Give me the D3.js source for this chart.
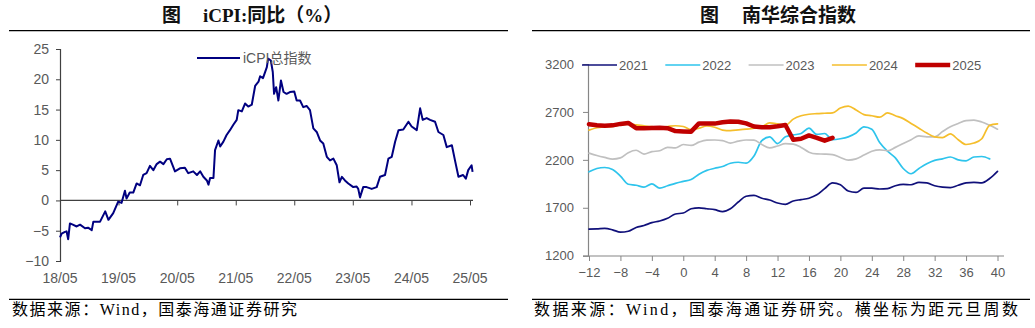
<!DOCTYPE html>
<html><head><meta charset="utf-8">
<script src="https://cdn.jsdelivr.net/npm/d3@7"></script>
<style>body{margin:0;background:#fff}svg{display:block}</style>
</head><body><svg id="c" width="1035" height="328"></svg>
<script>
// ---------- Left chart: iCPI YoY (%) ----------
const cpiDates = ["2018-05-01","2018-05-11","2018-06-01","2018-06-11","2018-06-21","2018-07-02","2018-07-20","2018-08-13","2018-09-03","2018-10-04","2018-10-23","2018-11-15","2018-11-25","2019-01-06","2019-02-07","2019-02-27","2019-03-29","2019-04-29","2019-05-20","2019-06-10","2019-06-20","2019-07-10","2019-08-01","2019-08-22","2019-09-12","2019-10-02","2019-10-23","2019-11-13","2019-12-04","2019-12-25","2020-01-15","2020-02-05","2020-02-26","2020-03-17","2020-04-17","2020-05-18","2020-06-18","2020-07-09","2020-08-09","2020-09-01","2020-09-21","2020-10-11","2020-11-02","2020-11-12","2020-11-22","2020-12-13","2020-12-23","2021-01-13","2021-01-24","2021-02-13","2021-03-05","2021-03-26","2021-04-16","2021-05-07","2021-05-17","2021-06-08","2021-06-28","2021-07-18","2021-08-09","2021-08-30","2021-09-20","2021-09-30","2021-10-18","2021-11-11","2021-11-19","2021-12-06","2021-12-18","2021-12-26","2022-01-08","2022-01-22","2022-02-07","2022-02-23","2022-03-14","2022-04-04","2022-05-01","2022-05-16","2022-06-06","2022-06-26","2022-07-17","2022-08-07","2022-08-28","2022-09-18","2022-10-09","2022-10-29","2022-11-20","2022-12-10","2022-12-31","2023-01-21","2023-02-07","2023-02-22","2023-03-13","2023-04-03","2023-05-04","2023-05-25","2023-06-04","2023-06-15","2023-07-05","2023-07-26","2023-08-27","2023-09-27","2023-10-18","2023-11-18","2023-12-09","2023-12-30","2024-01-20","2024-02-10","2024-03-11","2024-04-12","2024-05-02","2024-06-03","2024-06-24","2024-07-10","2024-08-04","2024-08-25","2024-09-25","2024-10-16","2024-11-16","2024-12-07","2025-01-08","2025-01-29","2025-02-18","2025-03-19","2025-04-05","2025-04-20","2025-05-11","2025-05-17"];
const cpiValues = [-6.1,-5.5,-5.2,-5.1,-6.4,-3.8,-4.0,-4.3,-4.0,-4.6,-4.5,-4.9,-3.5,-3.5,-1.8,-3.2,-2.1,-0.2,-0.4,1.6,0.3,1.3,1.3,2.8,2.5,4.2,4.5,5.7,5.0,6.0,6.4,6.0,6.8,6.9,4.8,5.3,5.4,4.5,4.8,4.2,4.8,3.9,3.3,2.6,3.7,3.7,8.3,9.9,8.9,9.7,10.8,11.6,12.5,13.3,14.9,14.7,16.0,15.5,15.8,18.9,19.6,20.5,20.2,22.0,23.4,23.1,21.2,17.6,18.7,16.5,19.8,17.9,17.6,17.9,18.0,16.5,16.5,15.4,15.6,14.9,11.9,11.3,9.9,9.4,7.2,6.6,6.9,5.8,3.0,3.9,3.3,2.8,2.2,2.3,1.9,0.5,2.2,2.2,1.9,2.2,3.9,4.2,6.9,7.2,9.7,11.6,11.7,13.0,12.2,11.6,15.2,13.3,13.6,13.3,13.0,11.3,10.8,8.8,9.1,6.4,3.9,4.2,3.6,5.0,5.8,4.7];
const cpiYTicks = [-10,-5,0,5,10,15,20,25];
const cpiXTicks = ["2018-05-01","2019-05-01","2020-05-01","2021-05-01","2022-05-01","2023-05-01","2024-05-01","2025-05-01"];
const cpiXLabels = ["18/05","19/05","20/05","21/05","22/05","23/05","24/05","25/05"];
const cpiLegend = "iCPI总指数";

// ---------- Right chart: Nanhua composite index ----------
const weeks = [-12,-11,-10,-9,-8,-7,-6,-5,-4,-3,-2,-1,0,1,2,3,4,5,6,7,8,9,10,11,12,13,14,15,16,17,18,19,20,21,22,23,24,25,26,27,28,29,30,31,32,33,34,35,36,37,38,39,40];
const nh2021 = [1478,1480,1485,1470,1445,1455,1495,1515,1545,1562,1590,1635,1645,1690,1700,1690,1680,1660,1690,1760,1820,1830,1800,1781,1750,1735,1771,1785,1800,1835,1900,1960,1940,1875,1860,1905,1905,1896,1900,1930,1945,1940,1965,1960,1930,1915,1910,1935,1960,1965,1960,2005,2080];
const nh2022 = [2075,2110,2120,2100,2030,1945,1935,1915,1950,1905,1930,1955,1975,1995,2050,2090,2112,2130,2165,2175,2165,2240,2400,2440,2370,2440,2460,2475,2530,2465,2475,2410,2420,2440,2480,2545,2520,2380,2290,2220,2110,2055,2110,2160,2195,2210,2230,2200,2190,2230,2235,2210,null];
const nh2023 = [2270,2245,2225,2208,2220,2275,2300,2260,2285,2295,2330,2325,2360,2350,2385,2405,2407,2400,2375,2395,2407,2405,2360,2325,2345,2370,2365,2330,2280,2262,2260,2255,2225,2198,2210,2250,2290,2305,2295,2330,2370,2410,2450,2440,2440,2495,2545,2580,2610,2615,2595,2560,2520];
const nh2024 = [2510,2535,2545,2550,2565,2572,2565,2555,2546,2540,2548,2556,2548,2515,2530,2553,2540,2511,2505,2512,2520,2530,2545,2585,2575,2560,2625,2660,2676,2682,2686,2690,2740,2760,2720,2672,2660,2645,2690,2660,2630,2580,2530,2480,2440,2432,2470,2410,2360,2375,2420,2560,2575];
const nh2025 = [2572,2560,2556,2560,2575,2585,2530,2530,2532,2535,2530,2500,2497,2494,2580,2580,2578,2592,2600,2598,2580,2548,2540,2540,2550,2564,2410,2420,2455,2430,2400,2430];
const nhNames = ["2021","2022","2023","2024","2025"];
const nhYTicks = [1200,1700,2200,2700,3200];
const nhXTicks = [-12,-8,-4,0,4,8,12,16,20,24,28,32,36,40];

// ---------- drawing ----------
const svg = d3.select('#c');
const LAT = "'Liberation Sans', Arial, sans-serif";
const SERIF = "'Liberation Serif', 'Noto Sans CJK SC', serif";
const labelColor = '#595959';

function header(fx, tx, text, x1, x2) {
  const t = svg.append('text').attr('y', 22).attr('font-family', SERIF)
    .attr('font-weight', 'bold').attr('font-size', 19).attr('fill', '#111');
  t.append('tspan').attr('x', fx).text('图');
  t.append('tspan').attr('x', tx).text(text);
  svg.append('line').attr('x1', x1).attr('x2', x2).attr('y1', 30.7).attr('y2', 30.7)
    .attr('stroke', '#000').attr('stroke-width', 1.3);
  svg.append('line').attr('x1', x1).attr('x2', x2).attr('y1', 299.3).attr('y2', 299.3)
    .attr('stroke', '#000').attr('stroke-width', 1.3);
}
header(162, 203, 'iCPI:同比（%）', 9, 508);
header(700, 742, '南华综合指数', 532, 1030);

svg.append('text').attr('x', 12).attr('y', 315).attr('font-family', SERIF).attr('font-size', 16)
  .attr('fill', '#000').attr('textLength', 285).attr('lengthAdjust', 'spacing')
  .text('数据来源：Wind，国泰海通证券研究');
svg.append('text').attr('x', 534).attr('y', 315).attr('font-family', SERIF).attr('font-size', 16)
  .attr('fill', '#000').attr('textLength', 484).attr('lengthAdjust', 'spacing')
  .text('数据来源：Wind，国泰海通证券研究。横坐标为距元旦周数');

// ----- Left chart -----
const parse = d3.timeParse('%Y-%m-%d');
const cpi = cpiDates.map((d, i) => ({ d: parse(d), v: cpiValues[i] }));
const xL = d3.scaleTime().domain([parse('2018-05-01'), parse('2025-05-01')]).range([60, 470]);
const yL = d3.scaleLinear().domain([-10, 25]).range([261, 49]);
const gL = svg.append('g');
const axisColL = '#404040';
const yAx = gL.append('g').attr('transform', 'translate(60,0)')
  .call(d3.axisLeft(yL).tickValues(cpiYTicks).tickSize(4).tickPadding(7));
yAx.select('.domain').attr('stroke', axisColL).attr('stroke-width', 1.2);
yAx.selectAll('.tick line').attr('stroke', axisColL);
yAx.selectAll('text').attr('font-family', LAT).attr('font-size', 14).attr('fill', labelColor);
const xAx = gL.append('g').attr('transform', `translate(0,${yL(0)})`)
  .call(d3.axisBottom(xL).tickValues(cpiXTicks.map(parse)).tickSize(5).tickFormat(''));
xAx.select('.domain').remove();
xAx.selectAll('.tick line').attr('stroke', axisColL);
gL.append('line').attr('x1', 60).attr('x2', 473).attr('y1', yL(0)).attr('y2', yL(0))
  .attr('stroke', axisColL).attr('stroke-width', 1.2);
gL.selectAll('.xl').data(cpiXTicks).join('text').attr('class', 'xl')
  .attr('x', d => xL(parse(d))).attr('y', 283).attr('text-anchor', 'middle')
  .attr('font-family', LAT).attr('font-size', 14).attr('fill', labelColor)
  .text((d, i) => cpiXLabels[i]);
gL.append('path').datum(cpi)
  .attr('d', d3.line().x(d => xL(d.d)).y(d => yL(d.v)))
  .attr('fill', 'none').attr('stroke', '#000080').attr('stroke-width', 2).attr('stroke-linejoin', 'round');
gL.append('line').attr('x1', 197).attr('x2', 240).attr('y1', 58).attr('y2', 58)
  .attr('stroke', '#000080').attr('stroke-width', 2);
gL.append('text').attr('x', 243).attr('y', 63).attr('font-family', "'Liberation Sans', 'Noto Sans CJK SC', sans-serif")
  .attr('font-size', 14).attr('fill', labelColor).text(cpiLegend);

// ----- Right chart -----
const xR = d3.scaleLinear().domain([-12, 40]).range([589, 997.5]);
const yR = d3.scaleLinear().domain([1200, 3200]).range([255.7, 64]);
const gR = svg.append('g');
const axisColR = '#868686';
const yAxR = gR.append('g').attr('transform', 'translate(588,0)')
  .call(d3.axisLeft(yR).tickValues(nhYTicks).tickSize(5).tickPadding(9).tickFormat(d3.format('d')));
yAxR.select('.domain').attr('stroke', axisColR).attr('stroke-width', 1.2);
yAxR.selectAll('.tick line').attr('stroke', axisColR);
yAxR.selectAll('text').attr('font-family', LAT).attr('font-size', 13).attr('fill', labelColor);
const xAxR = gR.append('g').attr('transform', 'translate(0,256)')
  .call(d3.axisBottom(xR).tickValues(nhXTicks).tickSize(5).tickPadding(7).tickFormat(d3.format('d')));
xAxR.select('.domain').remove();
xAxR.selectAll('.tick line').attr('stroke', axisColR);
xAxR.selectAll('text').attr('font-family', LAT).attr('font-size', 13).attr('fill', labelColor);
gR.append('line').attr('x1', 588).attr('x2', 1004).attr('y1', 256).attr('y2', 256)
  .attr('stroke', axisColR).attr('stroke-width', 1.2);

const seriesList = [nh2021, nh2022, nh2023, nh2024, nh2025];
const colors = ['#10107a', '#2ec4ec', '#c0c0c0', '#f5be2c', '#c00000'];
const widths = [1.7, 1.7, 1.7, 1.7, 4.5];
seriesList.forEach((vals, k) => {
  const pts = vals.map((v, i) => ({ w: weeks[i], v }));
  const line = d3.line().defined(d => d.v != null).x(d => xR(d.w)).y(d => yR(d.v))
    .curve(k === 4 ? d3.curveLinear : d3.curveMonotoneX);
  gR.append('path').datum(pts).attr('d', line).attr('fill', 'none')
    .attr('stroke', colors[k]).attr('stroke-width', widths[k])
    .attr('stroke-linejoin', 'round').attr('stroke-linecap', 'round');
});
nhNames.forEach((n, k) => {
  const x0 = 582 + k * 83.3;
  gR.append('line').attr('x1', x0).attr('x2', x0 + 35).attr('y1', 65).attr('y2', 65)
    .attr('stroke', colors[k]).attr('stroke-width', widths[k]);
  gR.append('text').attr('x', x0 + 37).attr('y', 70).attr('font-family', LAT)
    .attr('font-size', 13).attr('fill', labelColor).text(n);
});
</script></body></html>
